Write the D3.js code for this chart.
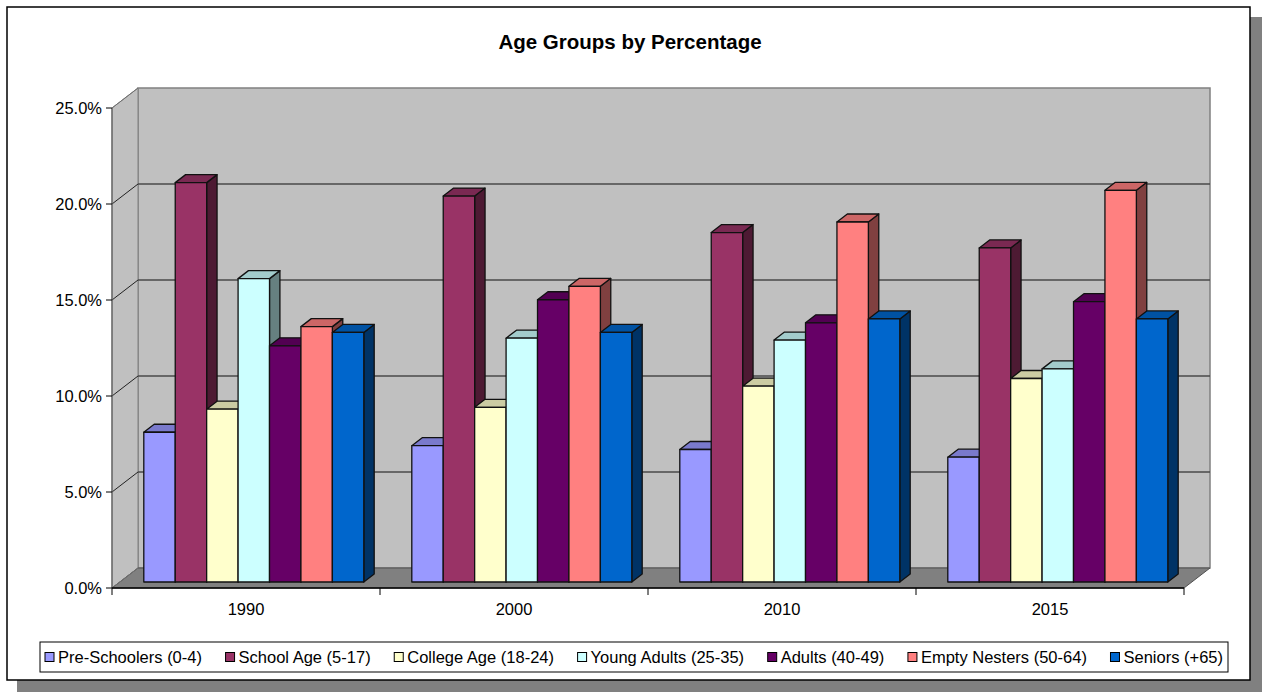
<!DOCTYPE html>
<html>

<head>
    <meta charset="utf-8" />
    <script src="https://d3js.org/d3.v7.min.js"></script>
    <style>
        body {
            margin: 0;
            background: #fff;
        }

        text {
            font-family: Arial, 'Liberation Sans', sans-serif;
        }
    </style>
</head>

<body>
    <script>
        // data
        const years = ['1990', '2000', '2010', '2015'];
        const groups = ['Pre-Schoolers (0-4)', 'School Age (5-17)', 'College Age (18-24)',
            'Young Adults (25-35)', 'Adults (40-49)', 'Empty Nesters (50-64)', 'Seniors (+65)'];
        const preSchoolers = [0.078, 0.071, 0.069, 0.065];
        const schoolAge = [0.208, 0.201, 0.182, 0.174];
        const collegeAge = [0.090, 0.091, 0.102, 0.106];
        const youngAdults = [0.158, 0.127, 0.126, 0.111];
        const adults = [0.123, 0.147, 0.135, 0.146];
        const emptyNesters = [0.133, 0.154, 0.1875, 0.204];
        const seniors = [0.130, 0.130, 0.137, 0.137];
        const yTicks = [0, 0.05, 0.10, 0.15, 0.20, 0.25];

        const series = [preSchoolers, schoolAge, collegeAge, youngAdults, adults, emptyNesters, seniors];
        const colors = ['#9999FF', '#993366', '#FFFFCC', '#CCFFFF', '#660066', '#FF8080', '#0066CC'];

        const W = 1262, H = 692;
        const svg = d3.select('body').append('svg')
            .attr('width', W)
            .attr('height', H);

        // frame + shadow
        svg.append('rect').attr('x', 17).attr('y', 17).attr('width', W - 17).attr('height', H - 17).attr('fill', '#808080');
        svg.append('rect').attr('x', 7).attr('y', 7).attr('width', 1243).attr('height', 673)
            .attr('fill', '#fff').attr('stroke', '#000').attr('stroke-width', 1.5);

        svg.append('text')
            .attr('x', 630).attr('y', 49)
            .attr('text-anchor', 'middle')
            .style('font-size', '20.5px').style('font-weight', 'bold')
            .text('Age Groups by Percentage');

        // 3d geometry
        const depthX = 26, depthY = -20;
        const y = d3.scaleLinear().domain([0, 0.25]).range([588, 108]);
        const x = d3.scaleBand().domain(years).range([112, 1184]);
        const xs = d3.scaleBand().domain(groups).range([24, x.bandwidth() - 24]);
        const [xl, xr] = x.range();
        const pts = (a) => a.map(p => p.join(',')).join(' ');

        // walls
        svg.append('polygon')
            .attr('points', pts([[xl + depthX, y(0.25) + depthY], [xr + depthX, y(0.25) + depthY], [xr + depthX, y(0) + depthY], [xl + depthX, y(0) + depthY]]))
            .attr('fill', '#C0C0C0').attr('stroke', '#808080').attr('stroke-width', 1.5);
        svg.append('polygon')
            .attr('points', pts([[xl, y(0)], [xl, y(0.25)], [xl + depthX, y(0.25) + depthY], [xl + depthX, y(0) + depthY]]))
            .attr('fill', '#C0C0C0').attr('stroke', '#808080').attr('stroke-width', 1);
        svg.append('polygon')
            .attr('points', pts([[xl, y(0)], [xr, y(0)], [xr + depthX, y(0) + depthY], [xl + depthX, y(0) + depthY]]))
            .attr('fill', '#808080').attr('stroke', '#505050').attr('stroke-width', 1);

        // gridlines
        yTicks.filter(t => t > 0 && t < 0.25).forEach(t => {
            svg.append('line')
                .attr('x1', xl + depthX).attr('x2', xr + depthX)
                .attr('y1', y(t) + depthY).attr('y2', y(t) + depthY)
                .attr('stroke', '#4a4a4a').attr('stroke-width', 1.5);
        });
        yTicks.forEach(t => {
            svg.append('line')
                .attr('x1', xl).attr('y1', y(t))
                .attr('x2', xl + depthX).attr('y2', y(t) + depthY)
                .attr('stroke', t === 0 || t === 0.25 ? '#707070' : '#222').attr('stroke-width', 1);
        });

        // bars
        const f0 = 0.3, f1 = 0.7;
        const bw = xs.bandwidth();
        const bdx = (f1 - f0) * depthX, bdy = (f1 - f0) * depthY;
        const shade = (c, k) => {
            const r = d3.rgb(c);
            return d3.rgb(r.r * k, r.g * k, r.b * k).formatHex();
        };
        years.forEach((yr, i) => {
            groups.forEach((g, j) => {
                const v = series[j][i];
                const bx0 = x(yr) + xs(g) + f0 * depthX;
                const bx1 = bx0 + bw;
                const yt = y(v) + f0 * depthY;
                const yb = y(0) + f0 * depthY;
                const bar = svg.append('g')
                    .attr('stroke', '#111').attr('stroke-width', 1.3).attr('stroke-linejoin', 'round');
                bar.append('polygon')
                    .attr('points', pts([[bx1, yt], [bx1 + bdx, yt + bdy], [bx1 + bdx, yb + bdy], [bx1, yb]]))
                    .attr('fill', shade(colors[j], 0.5));
                bar.append('polygon')
                    .attr('points', pts([[bx0, yt], [bx0 + bdx, yt + bdy], [bx1 + bdx, yt + bdy], [bx1, yt]]))
                    .attr('fill', shade(colors[j], 0.8));
                bar.append('rect')
                    .attr('x', bx0).attr('y', yt)
                    .attr('width', bw).attr('height', yb - yt)
                    .attr('fill', colors[j]);
            });
        });

        // axes
        svg.append('line').attr('x1', xl).attr('x2', xl).attr('y1', y(0.25)).attr('y2', y(0))
            .attr('stroke', '#606060').attr('stroke-width', 1.2);
        svg.append('line').attr('x1', xl).attr('x2', xr).attr('y1', y(0)).attr('y2', y(0))
            .attr('stroke', '#000').attr('stroke-width', 1.5);

        const yAxis = svg.append('g');
        yTicks.forEach(t => {
            yAxis.append('line').attr('x1', xl - 6).attr('x2', xl).attr('y1', y(t)).attr('y2', y(t))
                .attr('stroke', '#000');
            yAxis.append('text')
                .attr('x', xl - 10).attr('y', y(t)).attr('dy', '0.35em')
                .attr('text-anchor', 'end')
                .style('font-size', '16.5px')
                .text(d3.format('.1%')(t));
        });

        const xTicks = years.map(d => x(d)).concat([xr]);
        xTicks.forEach(px => {
            svg.append('line').attr('x1', px).attr('x2', px).attr('y1', y(0)).attr('y2', y(0) + 7)
                .attr('stroke', '#000');
        });
        years.forEach(d => {
            svg.append('text')
                .attr('x', x(d) + x.bandwidth() / 2).attr('y', 615)
                .attr('text-anchor', 'middle')
                .style('font-size', '16.5px')
                .text(d);
        });

        // legend: box spans 40..1228, items spread evenly inside
        const legLeft = 40, legRight = 1228, legMid = 657;
        const legend = svg.append('g');
        legend.append('rect')
            .attr('x', legLeft).attr('y', legMid - 15)
            .attr('width', legRight - legLeft).attr('height', 30)
            .attr('fill', '#fff').attr('stroke', '#000').attr('stroke-width', 1);
        const items = groups.map((g, j) => {
            const it = legend.append('g');
            it.append('rect').attr('y', legMid - 4.5).attr('width', 9).attr('height', 9)
                .attr('fill', colors[j]).attr('stroke', '#000').attr('stroke-width', 1);
            const t = it.append('text').attr('y', legMid).attr('dy', '0.35em')
                .style('font-size', '16.5px').text(g);
            return { it, t, w: t.node().getComputedTextLength() };
        });
        const inner = items.reduce((s, d) => s + 13 + d.w, 0);
        const gap = (legRight - legLeft - 10 - inner) / (items.length - 1);
        let lx = legLeft + 5;
        items.forEach(d => {
            d.it.select('rect').attr('x', lx);
            d.t.attr('x', lx + 13);
            lx += 13 + d.w + gap;
        });
    </script>
</body>

</html>
